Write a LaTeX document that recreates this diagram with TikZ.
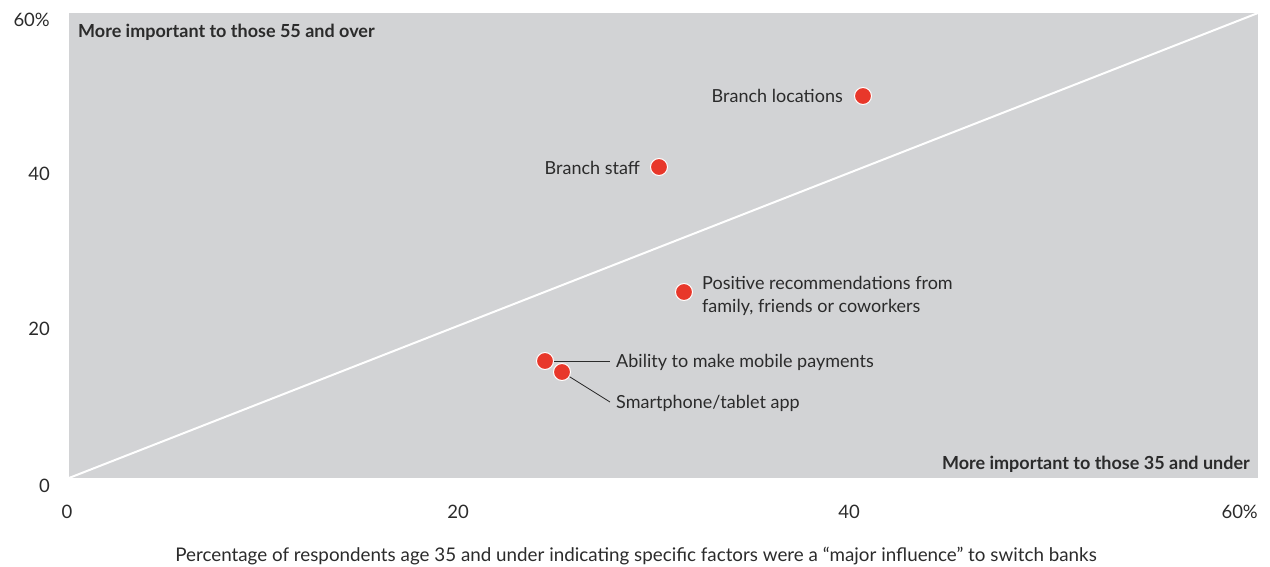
\documentclass[tikz,border=0pt]{standalone}
\usepackage{fontspec}
\setmainfont{Lato}
\definecolor{plotgrey}{HTML}{D2D3D5}
\definecolor{dotred}{HTML}{E8372A}
\definecolor{txt}{HTML}{2B2B2B}
\begin{document}
\begin{tikzpicture}[x=1pt,y=-1pt,
  lbl/.style={font=\fontsize{18}{23.5}\selectfont, text=txt, inner sep=0pt},
  axl/.style={font=\fontsize{18.5}{22}\selectfont, text=txt, inner sep=0pt},
  bold/.style={font=\fontsize{18}{21}\selectfont\bfseries, text=txt, inner sep=0pt},
  dot/.style={circle, fill=dotred, draw=white, line width=1pt, minimum size=17pt, inner sep=0pt},
  leader/.style={draw=txt, line width=0.8pt}]
\useasboundingbox (0,0) rectangle (1270,567);
\fill[plotgrey] (69,13) rectangle (1258,478);
\coordinate (o) at (69,478);
\coordinate (tr) at (1258,13);
\draw[white, line width=2pt] (o) -- (tr);
% corner texts
\node[bold, anchor=west] (q1) at (78,32) {More important to those 55 and over};
\node[bold, anchor=east] (q2) at (1250,464) {More important to those 35 and under};
% y labels
\node[axl, anchor=east] (y60) at (50,20) {60\%};
\node[axl, anchor=east] (y40) at (50,174) {40};
\node[axl, anchor=east] (y20) at (50,329) {20};
\node[axl, anchor=east] (y0) at (50,486) {0};
% x labels
\node[axl] (x0) at (67,512) {0};
\node[axl] (x20) at (458,512) {20};
\node[axl] (x40) at (849,512) {40};
\node[axl, anchor=east] (x60) at (1258,512) {60\%};
\node[axl, font=\fontsize{18.8}{22}\selectfont] (title) at (636,556) {Percentage of respondents age 35 and under indicating specific factors were a “major influence” to switch banks};
% dots and leaders
\node[dot] (d1) at (863,96) {};
\node[dot] (d2) at (659,167) {};
\node[dot] (d3) at (684,292) {};
\coordinate (l4) at (610,361);
\coordinate (l5) at (610,402);
\coordinate (c4) at (545,361);
\coordinate (c5) at (562,372);
\draw[leader] (c4) -- (l4);
\draw[leader] (c5) -- (l5);
\node[dot] (d4) at (c4) {};
\node[dot] (d5) at (c5) {};
% labels
\node[lbl, anchor=east] (t1) at (843,96) {Branch locations};
\node[lbl, anchor=east] (t2) at (640,168) {Branch staff};
\node[lbl, anchor=west, align=left] (t3) at (702,296) {Positive recommendations from\\family, friends or coworkers};
\node[lbl, anchor=west] (t4) at (616,362) {Ability to make mobile payments};
\node[lbl, anchor=west] (t5) at (616,403) {Smartphone/tablet app};
\end{tikzpicture}
\end{document}
